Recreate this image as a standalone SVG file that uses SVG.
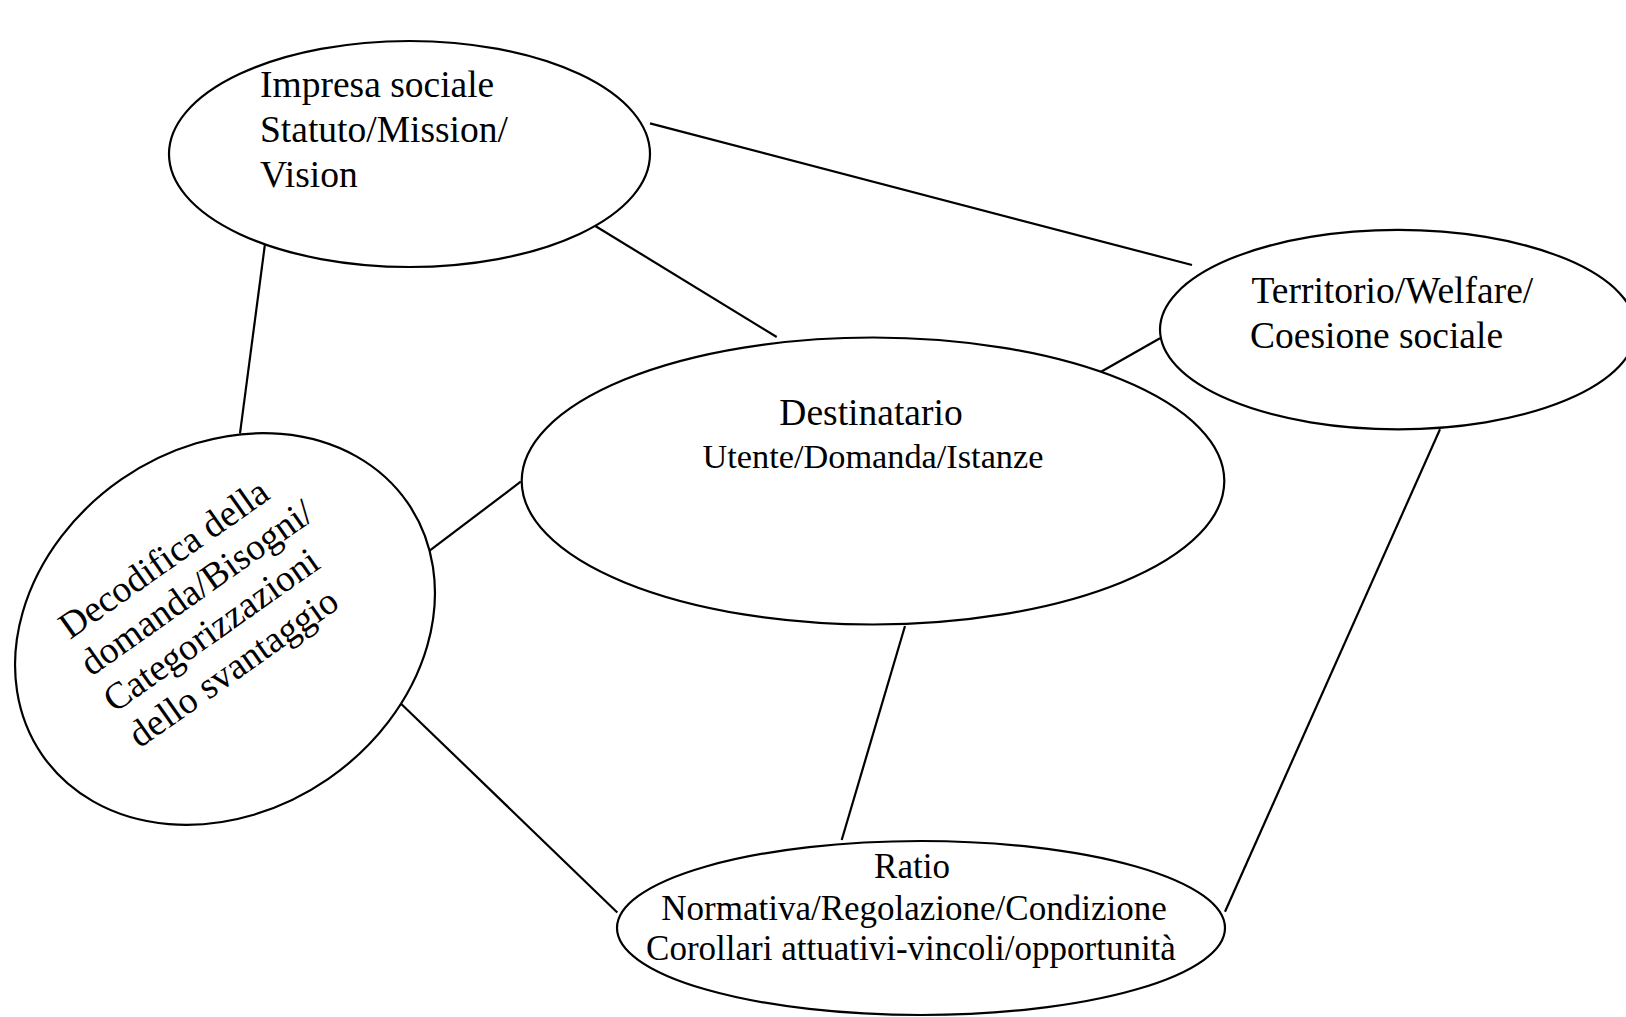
<svg xmlns="http://www.w3.org/2000/svg" width="1626" height="1017" viewBox="0 0 1626 1017">
  <style>
    .node { fill: #ffffff; stroke: #000000; stroke-width: 2.2; }
    .edge { stroke: #000000; stroke-width: 2.2; fill: none; stroke-linecap: butt; }
    .lbl { font-family: "Liberation Serif", "Times New Roman", serif; fill: #000000; }
    .big { font-size: 37.5px; }
    .mid { font-size: 35px; }
    .sm { font-size: 34.3px; }
  </style>
  <rect x="0" y="0" width="1626" height="1017" fill="#ffffff"/>

  <g id="connectors">
    <line class="edge" x1="650" y1="123.4" x2="1192" y2="265"/>
    <line class="edge" x1="590" y1="222.7" x2="776.7" y2="337"/>
    <line class="edge" x1="266.7" y1="231" x2="240" y2="433.3"/>
    <line class="edge" x1="1160" y1="338.3" x2="1099.3" y2="372.7"/>
    <line class="edge" x1="520.7" y1="481.7" x2="427" y2="552.7"/>
    <line class="edge" x1="400" y1="702.7" x2="617.3" y2="912.5"/>
    <line class="edge" x1="905" y1="626" x2="841.7" y2="840"/>
    <line class="edge" x1="1440" y1="429.3" x2="1225" y2="911.7"/>
  </g>

  <g id="impresa">
    <ellipse class="node" cx="409.5" cy="154" rx="240.5" ry="113"/>
    <text class="lbl big" x="260" y="96.7">Impresa sociale</text>
    <text class="lbl big" x="260" y="141.7">Statuto/Mission/</text>
    <text class="lbl big" x="260" y="186.7">Vision</text>
  </g>

  <g id="territorio">
    <ellipse class="node" cx="1398" cy="329.6" rx="238" ry="99.7"/>
    <text class="lbl big" x="1251.5" y="303.3">Territorio/Welfare/</text>
    <text class="lbl big" x="1250" y="348.3">Coesione sociale</text>
  </g>

  <g id="destinatario">
    <ellipse class="node" cx="873" cy="481" rx="351.3" ry="143.5"/>
    <text class="lbl big" x="871" y="425" text-anchor="middle">Destinatario</text>
    <text class="lbl sm" x="873" y="468" text-anchor="middle">Utente/Domanda/Istanze</text>
  </g>

  <g id="decodifica">
    <ellipse class="node" cx="225" cy="629" rx="222" ry="182" transform="rotate(-34.6 225 629)"/>
    <g transform="translate(70 640) rotate(-35.2)">
      <text class="lbl big" x="0" y="0">Decodifica della</text>
      <text class="lbl big" x="-4" y="42.5">domanda/Bisogni/</text>
      <text class="lbl big" x="-6" y="85.5">Categorizzazioni</text>
      <text class="lbl big" x="-6" y="129">dello svantaggio</text>
    </g>
  </g>

  <g id="ratio">
    <ellipse class="node" cx="921" cy="928" rx="304" ry="87"/>
    <text class="lbl mid" x="912" y="878.3" text-anchor="middle">Ratio</text>
    <text class="lbl mid" x="914" y="920" text-anchor="middle">Normativa/Regolazione/Condizione</text>
    <text class="lbl mid" x="911" y="960" text-anchor="middle">Corollari attuativi-vincoli/opportunità</text>
  </g>
</svg>
